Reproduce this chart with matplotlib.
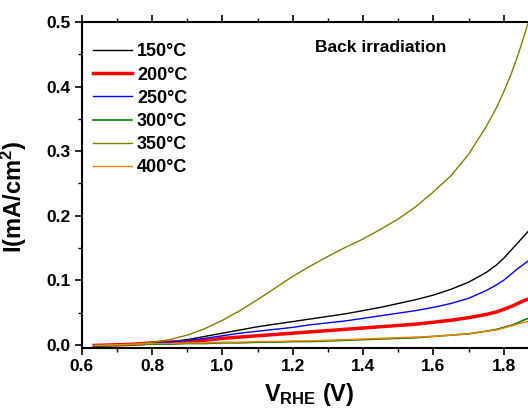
import matplotlib
matplotlib.use("Agg")
import matplotlib.pyplot as plt
from matplotlib.ticker import MultipleLocator

plt.rcParams['font.family'] = ['Liberation Sans', 'DejaVu Sans']
plt.rcParams['font.weight'] = 'bold'
plt.rcParams['mathtext.fontset'] = 'custom'
plt.rcParams['mathtext.rm'] = 'Liberation Sans:bold'
plt.rcParams['mathtext.bf'] = 'Liberation Sans:bold'
plt.rcParams['mathtext.it'] = 'Liberation Sans:bold'

voltage = [0.635, 0.70, 0.75, 0.80, 0.85, 0.90, 0.95, 1.00, 1.05, 1.10,
           1.15, 1.20, 1.25, 1.30, 1.35, 1.40, 1.45, 1.50, 1.55, 1.60,
           1.65, 1.70, 1.75, 1.78, 1.80, 1.82, 1.84, 1.86, 1.87]
i_150 = [-0.001, 0.000, 0.001, 0.003, 0.005, 0.008, 0.013, 0.018, 0.023, 0.028,
         0.032, 0.036, 0.040, 0.044, 0.048, 0.053, 0.058, 0.064, 0.070, 0.077,
         0.086, 0.097, 0.112, 0.124, 0.134, 0.146, 0.158, 0.170, 0.176]
i_200 = [-0.001, 0.000, 0.001, 0.003, 0.004, 0.005, 0.007, 0.010, 0.012, 0.014,
         0.016, 0.018, 0.020, 0.022, 0.024, 0.026, 0.028, 0.030, 0.032, 0.035,
         0.038, 0.042, 0.047, 0.051, 0.055, 0.059, 0.064, 0.069, 0.071]
i_250 = [-0.001, 0.000, 0.001, 0.003, 0.004, 0.007, 0.010, 0.014, 0.018, 0.021,
         0.024, 0.027, 0.031, 0.034, 0.037, 0.041, 0.045, 0.049, 0.053, 0.058,
         0.064, 0.072, 0.084, 0.093, 0.100, 0.109, 0.118, 0.126, 0.130]
i_300 = [-0.002, -0.001, 0.000, 0.001, 0.001, 0.002, 0.002, 0.003, 0.003, 0.004,
         0.004, 0.005, 0.005, 0.006, 0.007, 0.008, 0.009, 0.010, 0.011, 0.013,
         0.015, 0.017, 0.021, 0.024, 0.027, 0.030, 0.034, 0.039, 0.041]
i_350 = [-0.001, 0.000, 0.001, 0.004, 0.008, 0.015, 0.025, 0.038, 0.053, 0.070,
         0.088, 0.106, 0.122, 0.137, 0.151, 0.164, 0.179, 0.195, 0.214, 0.237,
         0.262, 0.295, 0.338, 0.368, 0.392, 0.418, 0.448, 0.482, 0.500]
i_400 = [-0.001, 0.000, 0.001, 0.002, 0.002, 0.003, 0.003, 0.004, 0.004, 0.005,
         0.005, 0.006, 0.006, 0.007, 0.008, 0.009, 0.010, 0.011, 0.012, 0.013,
         0.015, 0.017, 0.021, 0.023, 0.026, 0.029, 0.032, 0.035, 0.036]

labels = ['150°C', '200°C', '250°C', '300°C', '350°C', '400°C']
series = [i_150, i_200, i_250, i_300, i_350, i_400]
colors = ['#000000', '#ff0000', '#0000ff', '#008000', '#808000', '#ff8000']
widths = [1.0, 2.5, 1.0, 1.2, 1.0, 1.0]

fig = plt.figure(figsize=(5.28, 4.08), dpi=100)
ax = fig.add_axes([0.155, 0.147, 0.845, 0.799])

for y, lab, c, w in zip(series, labels, colors, widths):
    ax.plot(voltage, y, color=c, lw=w, label=lab, solid_joinstyle='round')

ax.set_xlim(0.6, 1.869)
ax.set_ylim(-0.005, 0.5)
ax.xaxis.set_major_locator(MultipleLocator(0.2))
ax.xaxis.set_minor_locator(MultipleLocator(0.1))
ax.yaxis.set_major_locator(MultipleLocator(0.1))
ax.yaxis.set_minor_locator(MultipleLocator(0.05))
ax.tick_params(which='major', direction='out', length=5, width=1.2,
               labelsize=12.5, pad=3)
ax.tick_params(which='minor', direction='out', length=3, width=1.0)
ax.tick_params(axis='x', which='both', top=True, labeltop=False)
for lab in ax.get_xticklabels() + ax.get_yticklabels():
    lab.set_fontweight('bold')
for s in ['left', 'bottom', 'top']:
    ax.spines[s].set_linewidth(1.5)
ax.spines['right'].set_visible(False)

ax.set_xlabel('V$_{\\mathbf{RHE}}$ (V)', fontsize=17, fontweight='bold')
ax.xaxis.set_label_coords(0.51, -0.1, transform=ax.transAxes)
ax.xaxis.label.set_va('top')
ax.set_ylabel('I(mA/cm$^{\\mathbf{2}}$)', fontsize=17, fontweight='bold')
ax.yaxis.set_label_coords(-0.118, 0.463, transform=ax.transAxes)

ax.text(1.451, 0.46, 'Back irradiation', fontsize=12.5, fontweight='bold',
        ha='center', va='center')

leg = ax.legend(loc='upper left', bbox_to_anchor=(-0.004, 0.973), frameon=False,
                prop={'weight': 'bold', 'size': 13}, handlelength=2.16,
                labelspacing=0.34, handletextpad=0.3, borderaxespad=0.3)

fig.savefig('out.png', dpi=100)
